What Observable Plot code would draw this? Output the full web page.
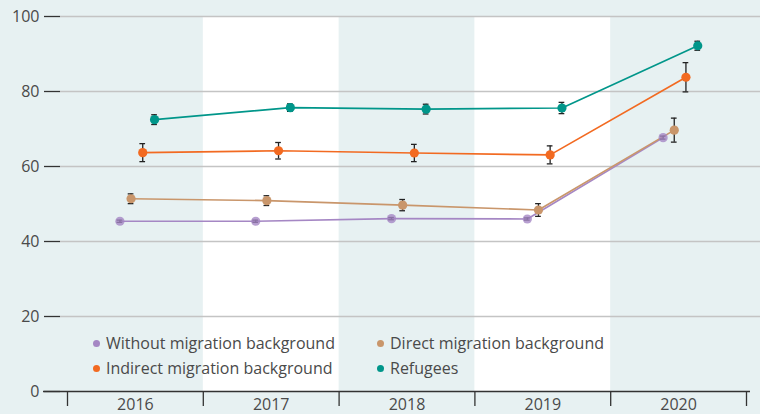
<!DOCTYPE html>
<html>
<head>
<meta charset="utf-8">
<script src="https://cdn.jsdelivr.net/npm/d3@7"></script>
<script src="https://cdn.jsdelivr.net/npm/@observablehq/plot@0.6"></script>
<style>
  html, body { margin: 0; padding: 0; background: #e7f1f2; }
  #wrap { position: relative; width: 760px; height: 414px; background: #e7f1f2; font-family: "Open Sans", sans-serif; }
  .leg { position: absolute; font-size: 16px; color: #4a4a4a; white-space: nowrap; line-height: 20px; }
  .leg span.b { position: absolute; left: -13px; top: 7px; width: 7px; height: 7px; border-radius: 50%; }
</style>
</head>
<body>
<div id="wrap"></div>
<script>
// ---- data ----
const years = [2016, 2017, 2018, 2019, 2020];
const seriesNames = ["Without migration background", "Direct migration background", "Indirect migration background", "Refugees"];
const seriesColors = ["#a587c4", "#c9966b", "#f26a21", "#00968a"];
const withoutVals = [45.4, 45.4, 46.1, 46.0, 67.7];
const withoutErr  = [0.3, 0.3, 0.3, 0.3, 0.4];
const directVals  = [51.4, 50.9, 49.7, 48.4, 69.7];
const directErr   = [1.3, 1.3, 1.5, 1.7, 3.2];
const indirectVals = [63.7, 64.2, 63.6, 63.1, 83.8];
const indirectErr  = [2.4, 2.2, 2.3, 2.4, 3.9];
const refugeeVals = [72.5, 75.7, 75.3, 75.6, 92.2];
const refugeeErr  = [1.3, 1.0, 1.3, 1.5, 1.2];
const yTicks = [0, 20, 40, 60, 80, 100];
const whiteYears = [2017, 2019];

// ---- build table ----
const valsList = [withoutVals, directVals, indirectVals, refugeeVals];
const errList = [withoutErr, directErr, indirectErr, refugeeErr];
const dodge = [-0.114, -0.032, 0.054, 0.141]; // within-year offset per series
const data = [];
seriesNames.forEach((s, i) => years.forEach((yr, j) => data.push({
  series: s, idx: i, year: yr, xp: yr + dodge[i],
  value: valsList[i][j], lo: valsList[i][j] - errList[i][j], hi: valsList[i][j] + errList[i][j]
})));
const bounds = years.map(y => y - 0.5).concat([years[years.length - 1] + 0.5]);
const cap = 0.021;

const chart = Plot.plot({
  width: 760, height: 414,
  marginLeft: 67, marginRight: 14, marginTop: 16, marginBottom: 23,
  style: { background: "transparent", fontFamily: "'Open Sans', sans-serif", fontSize: "16px", color: "#333", overflow: "visible" },
  x: { domain: [2015.5, 2020.5], axis: null, label: null },
  y: { domain: [0, 100], axis: null, label: null },
  color: { domain: seriesNames, range: seriesColors },
  marks: [
    Plot.rect(whiteYears, { x1: d => d - 0.5, x2: d => d + 0.5, y1: 0, y2: 100, fill: "white" }),
    Plot.ruleY(yTicks.filter(t => t > 0), { stroke: "#c4c4c4", strokeWidth: 1.3, insetLeft: -7, insetRight: -14 }),
    Plot.axisY({ ticks: yTicks, label: null, tickSize: 16, tickPadding: 5, dx: -7, stroke: "#333", strokeWidth: 1.3, fill: "#4a4a4a", fontSize: 16, tickFormat: d => String(d) }),
    Plot.ruleY([0], { stroke: "#333", strokeWidth: 1.3, insetLeft: -24, insetRight: -4 }),
    Plot.axisX({ ticks: bounds, label: null, tickSize: 15, stroke: "#333", strokeWidth: 1.3, tickFormat: () => "" }),
    Plot.axisX({ ticks: years, label: null, tickSize: 0, tickPadding: 7, fill: "#4a4a4a", fontSize: 16, tickFormat: d => String(d) }),
    Plot.line(data, { x: "xp", y: "value", z: "series", stroke: "series", strokeWidth: 1.7 }),
    Plot.ruleX(data, { x: "xp", y1: "lo", y2: "hi", stroke: "#222", strokeWidth: 1.3 }),
    Plot.ruleY(data, { x1: d => d.xp - cap, x2: d => d.xp + cap, y: "lo", stroke: "#222", strokeWidth: 1.3 }),
    Plot.ruleY(data, { x1: d => d.xp - cap, x2: d => d.xp + cap, y: "hi", stroke: "#222", strokeWidth: 1.3 }),
    Plot.dot(data, { x: "xp", y: "value", fill: "series", r: 4.6, fillOpacity: d => d.idx === 0 ? 0.8 : 1 })
  ]
});
const wrap = document.getElementById("wrap");
wrap.appendChild(chart);

// ---- legend (inside plot area, HTML overlay) ----
const legPos = [[106, 333], [390, 333], [106, 358], [390, 358]];
seriesNames.forEach((s, i) => {
  const d = document.createElement("div");
  d.className = "leg";
  d.style.left = legPos[i][0] + "px";
  d.style.top = legPos[i][1] + "px";
  d.innerHTML = `<span class="b" style="background:${seriesColors[i]}"></span>${s}`;
  wrap.appendChild(d);
});
chart.style.position = "absolute";
chart.style.left = "0";
chart.style.top = "0";
</script>
</body>
</html>
